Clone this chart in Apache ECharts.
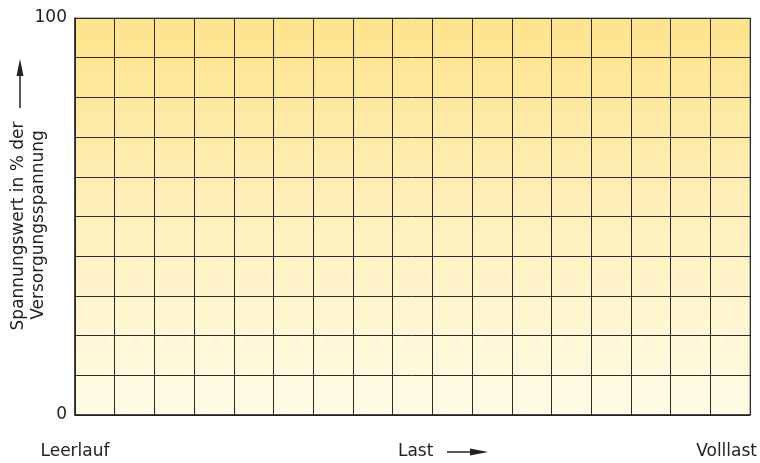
<!DOCTYPE html>
<html>
<head>
<meta charset="utf-8">
<script src="https://cdn.jsdelivr.net/npm/echarts@6/dist/echarts.min.js"></script>
<style>
  html, body { margin: 0; padding: 0; background: #ffffff; }
  #chart { width: 760px; height: 463px; }
</style>
</head>
<body>
<div id="chart"></div>
<script>
// ---- data ----
var xColumns = 17;                      // number of grid columns (load axis, arbitrary units)
var yMin = 0, yMax = 100, yStep = 10;   // voltage in % of supply voltage
var yTickLabels = [0, 100];
var xLabels = ['Leerlauf', 'Last', 'Volllast'];
var xLabelValues = [0, 8.58, 16.41];
var yTitleLines = ['Spannungswert in % der', 'Versorgungsspannung'];

var FONT = 'DejaVu Sans';
var TXT = '#222222';

var chart = echarts.init(document.getElementById('chart'), null, { renderer: 'canvas' });

var option = {
  animation: false,
  backgroundColor: '#ffffff',
  grid: {
    left: 75, right: 8, top: 18, bottom: 48,
    show: true,
    borderColor: '#777777',
    borderWidth: 1,
    backgroundColor: new echarts.graphic.LinearGradient(0, 0, 0, 1, [
      { offset: 0, color: '#fde38b' },
      { offset: 0.5, color: '#fef0bb' },
      { offset: 1, color: '#fffbe6' }
    ])
  },
  xAxis: {
    type: 'value',
    min: 0, max: xColumns, interval: 1,
    axisLine: { show: true, lineStyle: { color: '#222', width: 1.5 } },
    axisTick: { show: false },
    splitLine: { show: true, lineStyle: { color: '#2b2b2b', width: 1 } },
    axisLabel: {
      show: true,
      customValues: xLabelValues,
      formatter: function (v) {
        var i = xLabelValues.indexOf(v);
        return i >= 0 ? xLabels[i] : '';
      },
      margin: 27,
      fontFamily: FONT, fontSize: 17, color: TXT, lineHeight: 20
    }
  },
  yAxis: {
    type: 'value',
    min: yMin, max: yMax, interval: yStep,
    axisLine: { show: true, lineStyle: { color: '#222', width: 1.5 } },
    axisTick: { show: false },
    splitLine: { show: true, lineStyle: { color: '#2b2b2b', width: 1 } },
    axisLabel: {
      show: true,
      formatter: function (v) { return yTickLabels.indexOf(v) >= 0 ? String(v) : ''; },
      margin: 8,
      fontFamily: FONT, fontSize: 17, color: TXT
    }
  },
  series: [{ type: 'line', data: [], silent: true }],
  graphic: [
    // y-axis title, two rotated lines
    { type: 'text', x: 19, y: 226, rotation: Math.PI / 2,
      style: { text: yTitleLines[0], font: '17px "' + FONT + '"', fill: TXT, align: 'center', verticalAlign: 'middle' } },
    { type: 'text', x: 39, y: 225, rotation: Math.PI / 2,
      style: { text: yTitleLines[1], font: '17px "' + FONT + '"', fill: TXT, align: 'center', verticalAlign: 'middle' } },
    // vertical arrow
    { type: 'line', shape: { x1: 20, y1: 108, x2: 20, y2: 72 }, style: { stroke: '#222', lineWidth: 1.5 } },
    { type: 'polygon', shape: { points: [[20, 59], [23.5, 76], [16.5, 76]] }, style: { fill: '#222' } },
    // horizontal arrow after "Last"
    { type: 'line', shape: { x1: 447, y1: 452, x2: 472, y2: 452 }, style: { stroke: '#222', lineWidth: 1.5 } },
    { type: 'polygon', shape: { points: [[488, 452], [470, 448.5], [470, 455.5]] }, style: { fill: '#222' } }
  ]
};

chart.setOption(option);
</script>
</body>
</html>
